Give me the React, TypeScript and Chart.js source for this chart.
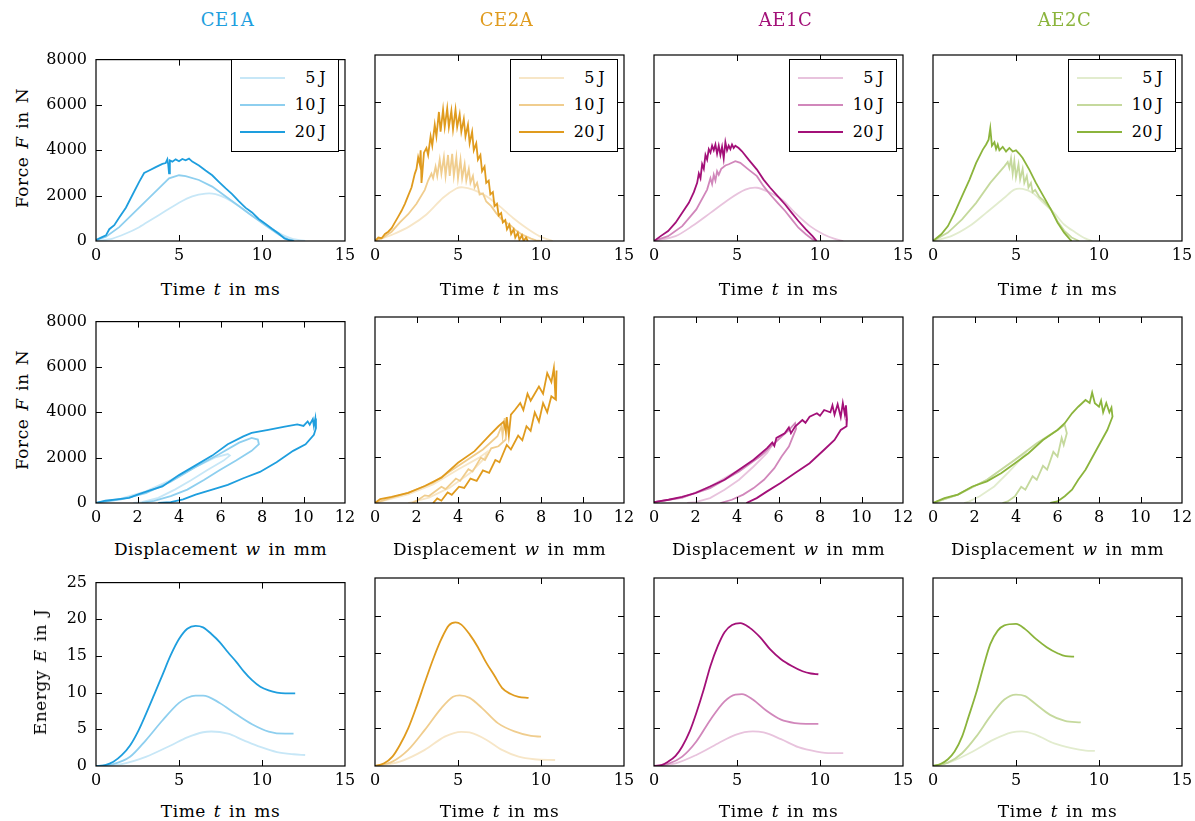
import React, { useEffect, useRef } from "react";
import { Chart, registerables } from "chart.js";

Chart.register(...registerables);

type Pt = [number, number];

// ---------- Force vs time (t in ms, F in N) ----------
const CE1A_FT_20: Pt[] = [[0,50],[0.3,150],[0.6,250],[0.8,520],[1.1,700],[1.4,1040],[1.8,1470],[2.2,2040],[2.6,2610],[2.9,3000],[3.2,3110],[3.6,3260],[4.0,3400],[4.2,3440],[4.3,3600],[4.35,3380],[4.4,2980],[4.45,3550],[4.6,3500],[4.8,3600],[5.0,3520],[5.2,3620],[5.4,3560],[5.6,3630],[5.8,3500],[6.2,3330],[6.6,3110],[7.0,2900],[7.4,2610],[7.8,2330],[8.2,2070],[8.6,1760],[9.0,1470],[9.4,1260],[9.8,970],[10.2,760],[10.6,540],[11.0,330],[11.35,110],[11.65,40],[11.9,0]];
const CE1A_FT_10: Pt[] = [[0,40],[0.6,190],[1.4,610],[2.2,1190],[3.0,1760],[3.8,2330],[4.4,2760],[5.0,2900],[5.4,2860],[6.2,2690],[7.0,2400],[7.8,1970],[8.6,1540],[9.4,1110],[10.2,690],[11.0,290],[11.55,70],[11.95,0]];
const CE1A_FT_5: Pt[] = [[0,0],[1.0,110],[1.8,330],[2.6,610],[3.4,970],[4.2,1330],[5.0,1690],[5.8,1970],[6.6,2090],[7.2,2070],[7.8,1900],[8.6,1540],[9.4,1110],[10.2,730],[11.0,360],[11.8,100],[12.6,0]];

const CE2A_FT_20: Pt[] = [[0,0],[0.2,150],[0.4,120],[0.6,300],[0.8,400],[1.0,550],[1.2,800],[1.4,1050],[1.6,1300],[1.8,1600],[2.0,1950],[2.2,2300],[2.4,2900],[2.5,3100],[2.6,3600],[2.7,3300],[2.75,3900],[2.8,2500],[2.85,2900],[2.95,3800],[3.1,4000],[3.2,3700],[3.35,4500],[3.45,4100],[3.6,5000],[3.7,4500],[3.85,5550],[3.95,4700],[4.1,5650],[4.2,4900],[4.35,5700],[4.45,4900],[4.6,5600],[4.7,4800],[4.85,5650],[4.95,4900],[5.1,5450],[5.2,4700],[5.35,5250],[5.45,4500],[5.6,5000],[5.7,4200],[5.85,4700],[5.95,3900],[6.1,4200],[6.2,3500],[6.35,3700],[6.45,3000],[6.6,3200],[6.7,2500],[6.85,2600],[6.95,2000],[7.1,2100],[7.2,1500],[7.35,1600],[7.45,1100],[7.6,1200],[7.7,800],[7.85,900],[7.95,500],[8.1,700],[8.2,300],[8.35,500],[8.45,150],[8.6,350],[8.7,50],[8.85,250],[8.95,0],[9.1,150],[9.2,0]];
const CE2A_FT_10: Pt[] = [[0,0],[0.5,150],[1.0,400],[1.5,800],[2.0,1150],[2.5,1600],[3.0,2200],[3.2,2600],[3.4,2900],[3.5,2700],[3.65,3200],[3.75,2800],[3.9,3500],[4.0,2900],[4.15,3600],[4.25,2800],[4.4,3700],[4.5,2800],[4.65,3750],[4.75,2800],[4.9,3600],[5.0,2700],[5.15,3500],[5.25,2700],[5.4,3300],[5.5,2600],[5.65,3100],[5.75,2500],[5.9,2800],[6.0,2300],[6.15,2500],[6.3,2000],[6.5,2050],[6.7,1700],[7.0,1500],[7.3,1200],[7.6,950],[7.9,800],[8.2,650],[8.5,450],[8.8,300],[9.1,200],[9.4,100],[9.7,30],[10.0,0]];
const CE2A_FT_5: Pt[] = [[0,0],[1.1,290],[2.1,640],[3.1,1140],[4.1,1860],[4.9,2260],[5.3,2310],[5.9,2210],[6.7,1930],[7.5,1500],[8.3,1000],[9.1,570],[9.9,210],[10.7,0]];

const AE1C_FT_20: Pt[] = [[0,0],[0.4,210],[0.85,430],[1.3,790],[1.7,1210],[2.1,1640],[2.4,2100],[2.6,2500],[2.7,2900],[2.8,2700],[2.9,3300],[3.0,3100],[3.1,3700],[3.2,3500],[3.3,3950],[3.4,3800],[3.5,4100],[3.6,3900],[3.7,4150],[3.8,3750],[3.9,4100],[4.0,3700],[4.1,4050],[4.2,3550],[4.3,4250],[4.4,3900],[4.5,4100],[4.6,3950],[4.7,4150],[4.8,4000],[4.9,4100],[5.1,4000],[5.3,3860],[5.7,3500],[6.2,3070],[6.6,2640],[7.0,2290],[7.45,1930],[7.9,1570],[8.3,1210],[8.7,860],[9.15,500],[9.55,210],[9.8,0]];
const AE1C_FT_10: Pt[] = [[0,0],[0.85,210],[1.7,640],[2.55,1360],[3.2,2210],[3.4,2700],[3.5,2450],[3.6,2850],[3.7,2600],[3.8,3000],[3.9,2850],[4.05,3100],[4.3,3250],[4.5,3300],[4.9,3430],[5.2,3360],[5.7,3070],[6.2,2790],[6.6,2360],[7.0,2000],[7.45,1640],[7.9,1290],[8.3,930],[8.7,570],[9.15,290],[9.55,70],[9.8,0]];
const AE1C_FT_5: Pt[] = [[0,0],[1.3,210],[2.3,640],[3.4,1210],[4.5,1790],[5.5,2210],[6.2,2290],[6.8,2140],[7.7,1790],[8.5,1210],[9.4,640],[10.2,290],[10.85,100],[11.4,0]];

const AE2C_FT_20: Pt[] = [[0,0],[0.5,290],[0.9,640],[1.3,1210],[1.75,1930],[2.2,2640],[2.6,3360],[3.0,3930],[3.2,4150],[3.35,4360],[3.45,4850],[3.55,4100],[3.7,4250],[3.8,3950],[3.9,4150],[4.0,3900],[4.2,4050],[4.4,3850],[4.6,4000],[4.8,3850],[5.0,3900],[5.2,3750],[5.4,3570],[5.8,3070],[6.2,2500],[6.65,1930],[7.1,1360],[7.5,790],[7.9,360],[8.25,70],[8.35,0]];
const AE2C_FT_10: Pt[] = [[0,0],[0.9,360],[1.75,930],[2.6,1640],[3.45,2500],[4.3,3210],[4.5,3400],[4.6,3150],[4.7,3550],[4.8,2900],[4.9,3450],[5.0,2750],[5.15,3300],[5.25,2650],[5.4,3100],[5.5,2500],[5.65,2800],[5.75,2300],[5.9,2500],[6.0,2100],[6.15,2200],[6.4,1900],[6.65,1750],[7.1,1360],[7.5,850],[7.9,450],[8.35,150],[8.8,0]];
const AE2C_FT_5: Pt[] = [[0,0],[1.1,210],[2.2,640],[3.2,1210],[4.3,1860],[4.9,2210],[5.4,2240],[6.0,2070],[6.65,1640],[7.3,1210],[7.9,710],[8.6,360],[9.2,100],[9.6,0]];

// ---------- Force vs displacement (w in mm, F in N) ----------
const CE1A_FW_20: Pt[] = [[0,0],[0.45,100],[1.0,160],[1.6,230],[2.0,370],[2.6,560],[3.2,730],[4.0,1230],[4.8,1660],[5.6,2090],[6.35,2590],[7.1,2940],[7.5,3090],[8.3,3230],[9.1,3370],[9.7,3470],[10.0,3400],[10.2,3600],[10.3,3450],[10.45,3700],[10.5,3400],[10.57,3730],[10.6,3300],[10.5,3010],[10.1,2590],[9.5,2300],[8.7,1800],[7.9,1370],[7.1,1090],[6.35,800],[5.6,590],[4.8,370],[4.2,160],[3.6,40],[3.0,0]];
const CE1A_FW_10: Pt[] = [[0,0],[1.2,160],[2.4,440],[3.6,940],[4.8,1590],[5.95,2160],[6.9,2660],[7.5,2870],[7.8,2800],[7.85,2590],[7.5,2300],[6.75,1870],[5.95,1440],[5.2,1010],[4.4,590],[3.6,300],[2.8,90],[2.2,0]];
const CE1A_FW_5: Pt[] = [[0,0],[1.2,190],[2.4,510],[3.6,1010],[4.8,1590],[5.75,2010],[6.35,2160],[6.45,2090],[6.15,1870],[5.35,1440],[4.6,1010],[3.8,590],[3.0,230],[2.2,40],[1.8,0]];

const CE2A_FW_20: Pt[] = [[0,0],[0.25,170],[0.8,260],[1.6,440],[2.4,730],[3.2,1090],[4.0,1730],[4.8,2230],[5.55,2940],[5.95,3300],[6.2,3500],[6.3,3100],[6.35,3700],[6.45,2900],[6.55,3800],[6.75,4010],[7.0,4300],[7.15,4000],[7.35,4700],[7.5,4400],[7.9,5010],[8.1,4700],[8.3,5590],[8.5,5200],[8.62,5800],[8.7,4500],[8.75,5700],[8.72,4440],[8.5,4590],[8.3,3900],[8.1,4300],[7.9,3500],[7.7,3900],[7.5,3100],[7.3,3300],[7.1,2700],[6.9,2900],[6.55,2300],[6.35,2500],[6.0,1750],[5.8,1850],[5.5,1300],[5.2,1400],[4.9,950],[4.6,1050],[4.3,650],[4.05,700],[3.7,350],[3.5,450],[3.2,100],[3.0,200],[2.8,0]];
const CE2A_FW_10: Pt[] = [[0,0],[0.8,230],[1.6,440],[2.8,870],[4.0,1590],[5.2,2300],[5.9,2870],[6.1,3300],[6.15,2900],[6.25,3650],[6.3,3100],[6.35,3500],[6.3,2730],[5.95,2440],[5.6,2350],[5.3,1850],[5.1,1950],[4.7,1350],[4.5,1450],[4.1,950],[3.9,1050],[3.4,600],[3.2,700],[2.6,300],[2.4,330],[2.0,90],[1.8,0]];
const CE2A_FW_5: Pt[] = [[0,0],[0.8,190],[1.6,370],[2.8,800],[4.0,1440],[5.0,1940],[5.4,2200],[5.3,1950],[4.6,1300],[3.6,660],[2.6,230],[1.6,0]];

const AE1C_FW_20: Pt[] = [[0,40],[0.7,140],[1.35,260],[2.0,430],[2.7,710],[3.4,1000],[4.1,1430],[4.8,1860],[5.45,2360],[5.7,2600],[5.8,2450],[5.9,2800],[6.3,3000],[6.5,3250],[6.6,3000],[6.8,3290],[7.15,3570],[7.3,3450],[7.5,3710],[7.85,3860],[8.0,3750],[8.2,4000],[8.5,3900],[8.6,4200],[8.7,3800],[8.85,4250],[9.0,3700],[9.1,4300],[9.2,3800],[9.25,4200],[9.3,3600],[9.28,3300],[9.0,3140],[8.7,2710],[8.2,2290],[7.5,1710],[6.8,1290],[6.1,860],[5.45,500],[4.95,210],[4.45,0]];
const AE1C_FW_10: Pt[] = [[0,40],[1.35,230],[2.7,640],[4.1,1360],[5.1,2000],[5.8,2570],[6.2,2900],[6.5,3140],[6.8,3430],[6.85,3200],[6.5,2430],[6.15,2000],[5.8,1500],[5.3,1000],[4.8,640],[4.3,360],[3.75,140],[3.2,0]];
const AE1C_FW_5: Pt[] = [[0,40],[1.35,220],[2.7,710],[4.1,1430],[5.1,2000],[5.55,2290],[5.45,2150],[4.8,1570],[4.1,1000],[3.4,570],[2.7,210],[2.0,40],[1.6,0]];

const AE2C_FW_20: Pt[] = [[0,0],[0.55,210],[1.2,360],[1.9,710],[2.6,930],[3.3,1290],[3.95,1710],[4.6,2140],[5.3,2710],[6.0,3140],[6.35,3430],[6.7,3860],[7.0,4140],[7.35,4430],[7.55,4300],[7.67,4750],[7.8,4290],[8.0,4140],[8.1,4400],[8.2,3900],[8.35,4300],[8.5,3900],[8.6,4100],[8.65,3710],[8.4,3140],[8.05,2570],[7.7,2000],[7.35,1430],[7.0,1000],[6.7,570],[6.35,290],[6.0,70],[5.65,0]];
const AE2C_FW_10: Pt[] = [[0,0],[1.2,360],[2.6,1000],[3.95,1860],[5.0,2570],[6.0,3140],[6.35,3360],[6.45,3000],[6.3,2500],[6.2,2800],[6.0,2000],[5.8,2200],[5.5,1430],[5.3,1600],[5.0,1000],[4.8,1150],[4.45,570],[4.25,700],[3.95,290],[3.6,70],[3.35,0]];
const AE2C_FW_5: Pt[] = [[0,0],[1.2,360],[2.6,1000],[3.95,1860],[4.45,2140],[4.3,1950],[3.6,1290],[2.95,710],[2.25,290],[1.75,70],[1.5,0]];

// ---------- Energy vs time (t in ms, E in J) ----------
const CE1A_ET_20: Pt[] = [[0,0],[0.55,0.13],[1.05,0.58],[1.55,1.47],[2.05,2.8],[2.55,4.8],[3.0,7.05],[3.5,9.7],[4.0,12.4],[4.5,15.1],[5.0,17.3],[5.5,18.7],[6.0,19.1],[6.45,18.9],[6.95,18.0],[7.45,16.9],[7.95,15.5],[8.45,14.2],[8.9,12.9],[9.4,11.7],[9.9,10.8],[10.4,10.3],[10.9,10.0],[11.4,9.9],[12.0,9.9]];
const CE1A_ET_10: Pt[] = [[0,0],[1.05,0.27],[2.05,1.25],[3.0,3.5],[4.0,6.2],[5.0,8.6],[5.5,9.3],[6.0,9.6],[6.45,9.6],[7.45,8.6],[8.45,7.05],[9.4,5.7],[10.4,4.7],[11.4,4.4],[11.9,4.4]];
const CE1A_ET_5: Pt[] = [[0,0],[1.55,0.27],[3.0,1.25],[4.5,2.8],[5.5,3.9],[6.45,4.6],[6.95,4.7],[7.95,4.4],[8.9,3.5],[9.9,2.6],[10.9,1.9],[11.9,1.6],[12.6,1.5]];

const CE2A_ET_20: Pt[] = [[0,0],[0.55,0.36],[1.05,1.25],[1.5,2.8],[2.0,5.0],[2.5,7.9],[3.0,11.1],[3.5,14.2],[4.0,16.9],[4.45,18.7],[4.85,19.1],[5.2,18.8],[5.7,17.5],[6.2,15.8],[6.7,13.75],[7.2,12.0],[7.65,10.4],[8.15,9.6],[8.65,9.2],[9.25,9.06]];
const CE2A_ET_10: Pt[] = [[0,0],[1.05,0.58],[2.0,2.14],[3.0,4.8],[4.0,7.7],[4.7,9.2],[5.1,9.4],[5.7,9.06],[6.45,7.7],[7.4,5.7],[8.4,4.6],[9.4,4.0],[10.0,3.9]];
const CE2A_ET_5: Pt[] = [[0,0],[1.5,0.58],[3.0,2.14],[4.2,3.9],[5.2,4.55],[5.7,4.46],[6.7,3.5],[7.65,2.14],[8.65,1.25],[9.6,0.9],[10.85,0.8]];

const AE1C_ET_20: Pt[] = [[0,0],[0.45,0.13],[0.85,0.58],[1.3,1.34],[1.7,2.6],[2.15,4.6],[2.55,7.05],[3.0,10.2],[3.4,13.3],[3.85,16.0],[4.25,17.8],[4.7,18.75],[5.2,19.0],[5.75,18.4],[6.4,17.1],[7.0,15.5],[7.65,14.2],[8.3,13.3],[8.95,12.6],[9.45,12.3],[9.9,12.2]];
const AE1C_ET_10: Pt[] = [[0,0],[0.85,0.27],[1.7,1.25],[2.55,3.26],[3.4,6.16],[4.25,8.6],[4.9,9.5],[5.3,9.55],[5.95,8.84],[6.8,7.3],[7.65,6.16],[8.5,5.7],[9.15,5.6],[9.9,5.6]];
const AE1C_ET_5: Pt[] = [[0,0],[1.3,0.36],[2.55,1.47],[3.85,3.0],[4.9,4.15],[5.95,4.6],[6.6,4.46],[7.65,3.57],[8.7,2.5],[9.8,1.92],[10.65,1.7],[11.4,1.7]];

const AE2C_ET_20: Pt[] = [[0,0],[0.45,0.27],[0.9,0.9],[1.3,1.92],[1.75,3.9],[2.15,6.6],[2.6,9.7],[3.05,13.3],[3.45,16.2],[3.9,18.0],[4.3,18.7],[5.0,18.9],[5.55,18.2],[6.2,16.9],[6.85,15.8],[7.5,15.0],[8.0,14.6],[8.5,14.55]];
const AE2C_ET_10: Pt[] = [[0,0],[0.9,0.45],[1.75,1.7],[2.6,3.9],[3.45,6.6],[4.3,8.84],[5.0,9.5],[5.55,9.3],[6.2,8.2],[7.05,6.8],[7.95,6.0],[8.9,5.8]];
const AE2C_ET_5: Pt[] = [[0,0],[1.1,0.58],[2.4,1.92],[3.65,3.5],[4.75,4.46],[5.35,4.6],[6.2,4.15],[7.3,3.0],[8.35,2.37],[9.2,2.05],[9.75,2.0]];

// ---------- labels, colours ----------
const SPECIMENS = ["CE1A", "CE2A", "AE1C", "AE2C"];
const ENERGY_LABELS = ["5\u2009J", "10\u2009J", "20\u2009J"];
const COLOR_20 = ["#1e9ede", "#e09b1e", "#a31078", "#8bb43c"];
const COLOR_10 = ["#8ecfef", "#f0cd8e", "#d187bb", "#c5d99d"];
const COLOR_5 = ["#c7e7f7", "#f7e6c7", "#e8c3dd", "#e2ecce"];

const X_MAX = [15, 12, 15];
const X_STEP = [5, 2, 5];
const Y_MAX = [8000, 8000, 25];
const Y_STEP = [2000, 2000, 5];

// rows of panels: [row][specimen] -> [5 J, 10 J, 20 J]
const ROWS: Pt[][][][] = [
  [[CE1A_FT_5, CE1A_FT_10, CE1A_FT_20], [CE2A_FT_5, CE2A_FT_10, CE2A_FT_20], [AE1C_FT_5, AE1C_FT_10, AE1C_FT_20], [AE2C_FT_5, AE2C_FT_10, AE2C_FT_20]],
  [[CE1A_FW_5, CE1A_FW_10, CE1A_FW_20], [CE2A_FW_5, CE2A_FW_10, CE2A_FW_20], [AE1C_FW_5, AE1C_FW_10, AE1C_FW_20], [AE2C_FW_5, AE2C_FW_10, AE2C_FW_20]],
  [[CE1A_ET_5, CE1A_ET_10, CE1A_ET_20], [CE2A_ET_5, CE2A_ET_10, CE2A_ET_20], [AE1C_ET_5, AE1C_ET_10, AE1C_ET_20], [AE2C_ET_5, AE2C_ET_10, AE2C_ET_20]],
];

// ---------- geometry ----------
const FONT = '"DejaVu Serif", "Liberation Serif", serif';
const PLOT_LEFT = [96, 375, 654, 933];
const PLOT_W = 249;
const ROW_TOP = [55, 317, 578];
const ROW_H = [186, 186, 188];
const XTITLE_Y = [289, 549, 811];
const ML = 64, MT = 14, MR = 18, MB = 34;

const frameTicks = {
  id: "frameTicks",
  afterDraw(chart: any) {
    const { ctx, chartArea, scales } = chart;
    const { left, right, top, bottom } = chartArea;
    const L = 6;
    ctx.save();
    ctx.strokeStyle = "#000";
    ctx.lineWidth = 1;
    ctx.beginPath();
    for (const t of scales.x.ticks) {
      const px = Math.round(scales.x.getPixelForValue(t.value)) + 0.5;
      if (px <= left + 2 || px >= right - 2) continue;
      ctx.moveTo(px, bottom);
      ctx.lineTo(px, bottom - L);
      ctx.moveTo(px, top);
      ctx.lineTo(px, top + L);
    }
    for (const t of scales.y.ticks) {
      const py = Math.round(scales.y.getPixelForValue(t.value)) + 0.5;
      if (py <= top + 2 || py >= bottom - 2) continue;
      ctx.moveTo(left, py);
      ctx.lineTo(left + L, py);
      ctx.moveTo(right, py);
      ctx.lineTo(right - L, py);
    }
    ctx.stroke();
    ctx.lineWidth = 1.2;
    ctx.strokeRect(left, top, right - left, bottom - top);
    ctx.restore();
  },
};

function Panel({ row, col }: { row: number; col: number }) {
  const ref = useRef<HTMLCanvasElement>(null);
  const W = ML + PLOT_W + MR;
  const H = MT + ROW_H[row] + MB;
  useEffect(() => {
    const series = ROWS[row][col];
    const colors = [COLOR_5[col], COLOR_10[col], COLOR_20[col]];
    const datasets = [2, 1, 0].map((i) => ({
      label: ENERGY_LABELS[i],
      data: series[i].map(([x, y]) => ({ x, y })),
      showLine: true,
      borderColor: colors[i],
      backgroundColor: colors[i],
      borderWidth: 1.8,
      pointRadius: 0,
      pointHoverRadius: 0,
      tension: row === 2 ? 0.4 : row === 0 && i === 0 ? 0.3 : 0,
      cubicInterpolationMode: row === 2 ? "monotone" : "default",
      fill: false,
    }));
    const tickFont = { family: FONT, size: 16 };
    const chart = new Chart(ref.current as HTMLCanvasElement, {
      type: "scatter",
      data: { datasets },
      options: {
        responsive: false,
        animation: false,
        layout: { padding: { left: 0, top: MT, right: MR, bottom: 0 } },
        plugins: { legend: { display: false }, tooltip: { enabled: false } },
        scales: {
          x: {
            type: "linear",
            min: 0,
            max: X_MAX[row],
            grid: { display: false, drawTicks: false },
            border: { display: false },
            ticks: { stepSize: X_STEP[row], padding: 5, color: "#000", font: tickFont, maxRotation: 0, callback: (v: any) => String(v) },
            afterFit: (s: any) => { s.height = MB; },
          },
          y: {
            type: "linear",
            min: 0,
            max: Y_MAX[row],
            grid: { display: false, drawTicks: false },
            border: { display: false },
            ticks: { display: col === 0, stepSize: Y_STEP[row], padding: 9, color: "#000", font: tickFont, callback: (v: any) => String(v) },
            afterFit: (s: any) => { s.width = ML; },
          },
        },
      } as any,
      plugins: [frameTicks],
    });
    return () => chart.destroy();
  }, [row, col]);
  return (
    <canvas
      ref={ref}
      width={W}
      height={H}
      style={{ position: "absolute", left: PLOT_LEFT[col] - ML, top: ROW_TOP[row] - MT, width: W, height: H }}
    />
  );
}

function Legend({ col }: { col: number }) {
  const colors = [COLOR_5[col], COLOR_10[col], COLOR_20[col]];
  return (
    <div
      style={{
        position: "absolute",
        left: PLOT_LEFT[col] + PLOT_W - 114,
        top: ROW_TOP[0] + 4,
        width: 108,
        height: 93,
        border: "1px solid #000",
        background: "#fff",
        boxSizing: "border-box",
      }}
    >
      {ENERGY_LABELS.map((lab, i) => (
        <React.Fragment key={lab}>
          <div style={{ position: "absolute", left: 8, top: 17 + 27 * i, width: 45, height: 2, background: colors[i] }} />
          <div
            style={{
              position: "absolute",
              right: 12,
              top: 18 + 27 * i,
              transform: "translateY(-50%)",
              fontSize: 16,
              lineHeight: "18px",
              whiteSpace: "nowrap",
              color: "#000",
              letterSpacing: "0.3px",
            }}
          >
            {lab}
          </div>
        </React.Fragment>
      ))}
    </div>
  );
}

const X_TITLES = [
  <>Time <i>t</i> in ms</>,
  <>Displacement <i>w</i> in mm</>,
  <>Time <i>t</i> in ms</>,
];
const Y_TITLES = [
  <>Force <i>F</i> in N</>,
  <>Force <i>F</i> in N</>,
  <>Energy <i>E</i> in J</>,
];
const Y_TITLE_X = [22, 22, 40];

export default function App() {
  const center: React.CSSProperties = {
    position: "absolute",
    transform: "translate(-50%, -50%)",
    whiteSpace: "nowrap",
    lineHeight: "20px",
    letterSpacing: "0.5px",
    wordSpacing: "2px",
  };
  return (
    <div style={{ position: "absolute", left: 0, top: 0, width: 1195, height: 821, background: "#fff", fontFamily: FONT, color: "#000", overflow: "hidden" }}>
      {[0, 1, 2].map((r) => [0, 1, 2, 3].map((c) => <Panel key={`${r}-${c}`} row={r} col={c} />))}
      {[0, 1, 2, 3].map((c) => <Legend key={`lg${c}`} col={c} />)}
      {SPECIMENS.map((s, c) => (
        <div key={s} style={{ ...center, left: PLOT_LEFT[c] + PLOT_W / 2 + 7, top: 20, color: COLOR_20[c], fontSize: 18 }}>
          {s}
        </div>
      ))}
      {[0, 1, 2].map((r) =>
        [0, 1, 2, 3].map((c) => (
          <div key={`xt${r}${c}`} style={{ ...center, left: PLOT_LEFT[c] + PLOT_W / 2, top: XTITLE_Y[r], fontSize: 17 }}>
            {X_TITLES[r]}
          </div>
        ))
      )}
      {[0, 1, 2].map((r) => (
        <div
          key={`yt${r}`}
          style={{ ...center, left: Y_TITLE_X[r], top: ROW_TOP[r] + ROW_H[r] / 2, fontSize: 17, transform: "translate(-50%, -50%) rotate(-90deg)" }}
        >
          {Y_TITLES[r]}
        </div>
      ))}
    </div>
  );
}
